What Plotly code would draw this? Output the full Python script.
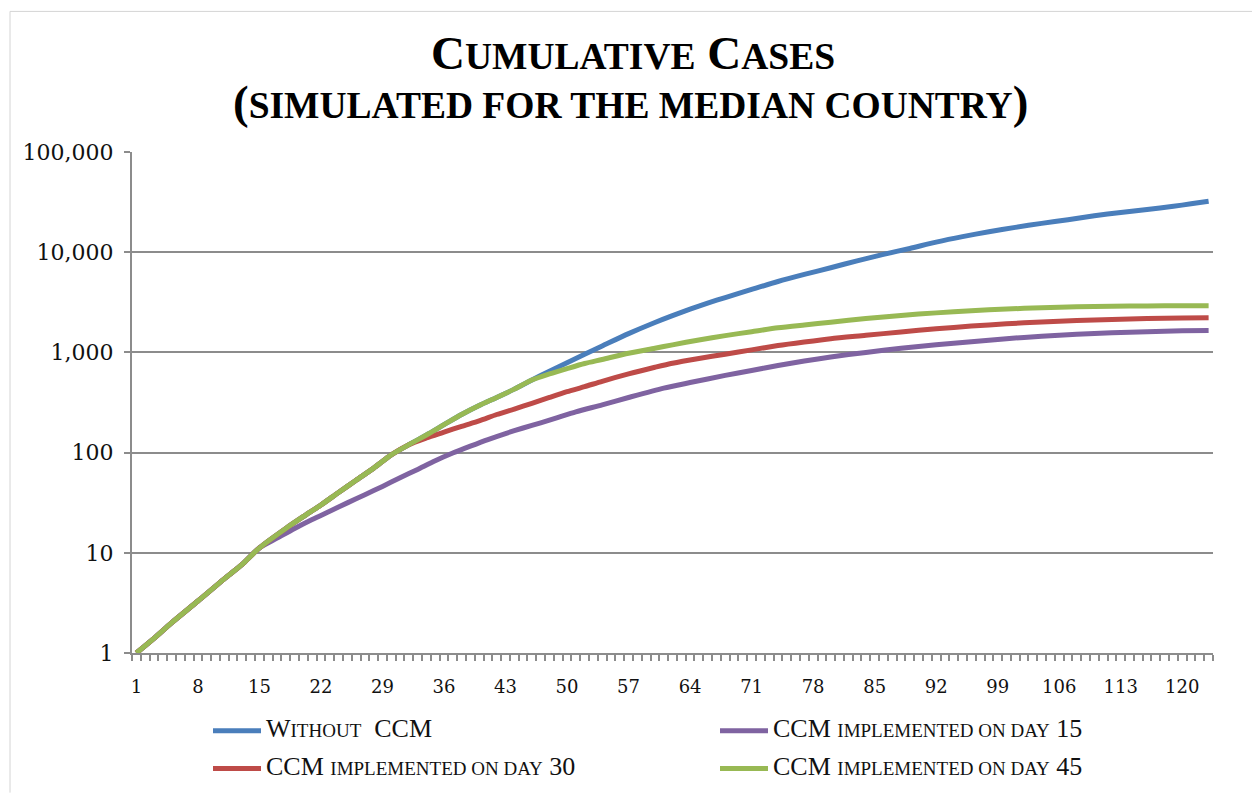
import plotly.graph_objects as go

# Shared trajectory before any containment measure starts
base_days = [1, 3, 5, 8, 11, 13, 15, 18, 20, 22, 24, 26, 28, 30, 32, 34, 36, 38, 40, 42, 44, 46]
base_cases = [1, 1.4, 2.0, 3.3, 5.5, 7.6, 11.2, 17.5, 23, 30, 40, 53, 70, 95, 120, 150, 190, 240, 295, 355, 430, 530]

# Without CCM (continues from the shared trajectory after day 46)
no_ccm_days = [48, 50, 52, 54, 57, 60, 62, 64, 66, 68, 71, 74, 77, 80, 83, 86, 89, 92, 95, 98,
               101, 104, 107, 110, 113, 116, 119, 121, 123]
no_ccm_cases = [650, 790, 960, 1160, 1540, 1990, 2330, 2700, 3100, 3530, 4250, 5100, 6000, 7000, 8200,
                9500, 10900, 12600, 14300, 16000, 17700, 19400, 21100, 23100, 24900, 26700, 28700, 30400, 32300]

# CCM implemented on day 15 (diverges after day 15)
ccm15_days = [17, 19, 21, 23, 25, 27, 29, 31, 33, 35, 37, 39, 41, 43, 45, 47, 49, 51, 54, 57, 61, 64,
              68, 71, 74, 77, 80, 84, 88, 92, 96, 100, 104, 108, 112, 116, 120, 123]
ccm15_cases = [14, 17.5, 21.5, 26, 31.5, 38, 46, 56, 68, 83, 99, 116, 135, 155, 176, 198, 225, 255, 300,
               355, 440, 500, 590, 660, 740, 820, 900, 1000, 1100, 1190, 1280, 1370, 1450, 1520, 1570,
               1610, 1640, 1650]

# CCM implemented on day 30 (diverges after day 32)
ccm30_days = [34, 36, 38, 40, 42, 44, 46, 48, 50, 52, 54, 57, 60, 62, 65, 68, 71, 74, 77, 80, 84, 88,
              92, 96, 100, 104, 108, 112, 116, 120, 123]
ccm30_cases = [140, 160, 183, 207, 240, 272, 310, 355, 405, 455, 515, 610, 710, 780, 870, 960, 1060,
               1170, 1270, 1370, 1480, 1600, 1720, 1830, 1930, 2010, 2080, 2130, 2180, 2210, 2220]

# CCM implemented on day 45 (diverges after day 46)
ccm45_days = [48, 50, 52, 54, 57, 60, 62, 65, 68, 71, 74, 77, 80, 84, 88, 92, 96, 100, 104, 108, 112,
              116, 120, 123]
ccm45_cases = [610, 690, 775, 850, 980, 1100, 1190, 1330, 1470, 1610, 1760, 1880, 2000, 2180, 2340,
               2480, 2610, 2710, 2790, 2850, 2890, 2910, 2920, 2920]

x_tick_days = [1, 8, 15, 22, 29, 36, 43, 50, 57, 64, 71, 78, 85, 92, 99, 106, 113, 120]
y_tick_vals = [1, 10, 100, 1000, 10000, 100000]
y_tick_text = ["1", "10", "100", "1,000", "10,000", "100,000"]

SERIF = "Georgia, 'DejaVu Serif', serif"
TITLE_SERIF = "'Liberation Serif', 'Times New Roman', serif"
GRID = "#8c8c8c"

W, H = 1252, 799
L, R, T, B = 132, 39, 152, 141
pw, ph = W - L - R, H - T - B


def px_x(p):
    return (p - L) / pw


def px_y(p):
    return (H - B - p) / ph


def sc(text, size):
    """Small-caps style run."""
    return f"<span style='font-size:{size}px'>{text}</span>"


def with_base(split_day, days, cases):
    xs = [d for d in base_days if d <= split_day] + days
    ys = [c for d, c in zip(base_days, base_cases) if d <= split_day] + cases
    return xs, ys


CAP, LEG_SC = 26, 19


def cap(text):
    return f"<span style='font-size:{CAP}px'>{text}</span>"


# name, split day, days, cases, colour, legend id, legend position (px)
series = [
    (cap("W") + sc("ITHOUT", LEG_SC) + cap("  CCM"), 46, no_ccm_days, no_ccm_cases, "#4a7ebb",
     "legend", (208, 737)),
    (cap("CCM ") + sc("IMPLEMENTED ON DAY", LEG_SC) + cap(" 15"), 15, ccm15_days, ccm15_cases, "#7f63a1",
     "legend2", (715, 737)),
    (cap("CCM ") + sc("IMPLEMENTED ON DAY", LEG_SC) + cap(" 30"), 32, ccm30_days, ccm30_cases, "#be4b48",
     "legend3", (208, 775)),
    (cap("CCM ") + sc("IMPLEMENTED ON DAY", LEG_SC) + cap(" 45"), 46, ccm45_days, ccm45_cases, "#98b954",
     "legend4", (715, 775)),
]

fig = go.Figure()
legends = {}
for name, split, days, cases, color, leg, (lx, ly) in series:
    xs, ys = with_base(split, days, cases)
    fig.add_trace(go.Scatter(
        x=xs, y=ys, mode="lines", name=name, legend=leg,
        line=dict(color=color, width=5, shape="spline", smoothing=0.7),
    ))
    legends[leg] = dict(
        orientation="h", x=px_x(lx), xanchor="left", y=px_y(ly), yanchor="middle",
        itemwidth=48,
        font=dict(family=TITLE_SERIF, size=17, color="#111111"),
        bgcolor="rgba(0,0,0,0)", itemclick=False, itemdoubleclick=False,
    )

fig.update_layout(
    width=W, height=H,
    margin=dict(l=L, r=R, t=T, b=B, pad=0),
    paper_bgcolor="white", plot_bgcolor="white",
    showlegend=True,
    font=dict(family=SERIF, color="#111111"),
    xaxis=dict(
        range=[0.5, 123.5], tickmode="array", tickvals=x_tick_days,
        ticks="", showgrid=False, zeroline=False, automargin=False,
        showline=True, linecolor=GRID, linewidth=2,
        tickfont=dict(family=SERIF, size=18, color="#111111"),
        ticklabelstandoff=16,
        minor=dict(ticks="outside", ticklen=6, tickwidth=2, tickcolor=GRID,
                   tickmode="linear", tick0=0.5, dtick=1, showgrid=False),
    ),
    yaxis=dict(
        type="log", range=[0, 5], tickmode="array",
        tickvals=y_tick_vals, ticktext=y_tick_text, automargin=False,
        ticks="outside", ticklen=6, tickwidth=2, tickcolor=GRID,
        showgrid=True, gridcolor=GRID, gridwidth=2, zeroline=False,
        showline=True, linecolor=GRID, linewidth=2,
        tickfont=dict(family=SERIF, size=22, color="#111111"),
        ticklabelstandoff=6,
    ),
    **legends,
)

# Two-line small-caps title
TITLE_SC = 37.5
fig.add_annotation(
    xref="paper", yref="paper", x=px_x(633), y=px_y(52), xanchor="center", yanchor="middle",
    showarrow=False,
    text="<b>C" + sc("UMULATIVE", TITLE_SC) + " C" + sc("ASES", TITLE_SC) + "</b>",
    font=dict(family=TITLE_SERIF, size=47, color="#000000"),
)
fig.add_annotation(
    xref="paper", yref="paper", x=px_x(630), y=px_y(101), xanchor="center", yanchor="middle",
    showarrow=False,
    text="<b>(" + sc("SIMULATED FOR THE MEDIAN COUNTRY", TITLE_SC) + ")</b>",
    font=dict(family=TITLE_SERIF, size=47, color="#000000"),
)

# Chart-area frame (top and left edges visible)
fig.add_shape(type="line", xref="paper", yref="paper", x0=px_x(10), x1=px_x(1252), y0=px_y(10), y1=px_y(10),
              line=dict(color="#d4d4d4", width=1))
fig.add_shape(type="line", xref="paper", yref="paper", x0=px_x(10), x1=px_x(10), y0=px_y(10), y1=px_y(799),
              line=dict(color="#d4d4d4", width=1))

fig.write_html("out.html")
